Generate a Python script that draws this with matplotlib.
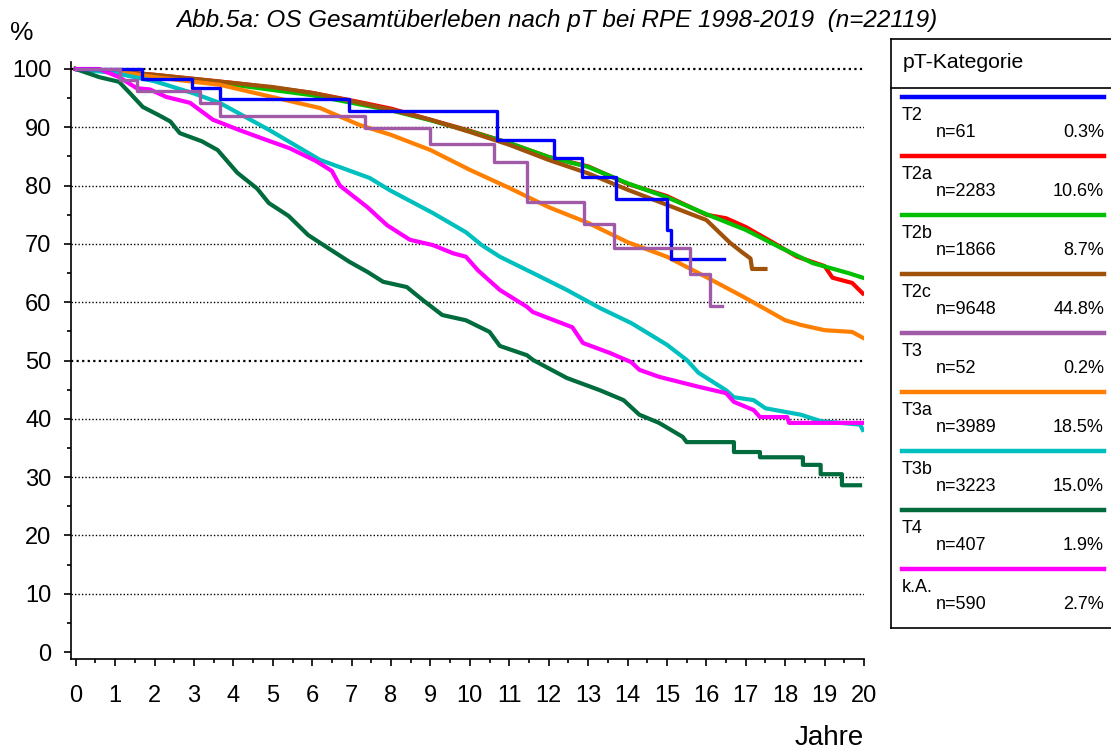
import matplotlib
matplotlib.use('Agg')
import matplotlib.pyplot as plt
from matplotlib.lines import Line2D

plt.rcParams['font.family'] = ['Liberation Sans', 'DejaVu Sans']

# Kaplan-Meier curves (years, % surviving)
t2_t = [0, 1.67, 2.94, 3.65, 6.93, 10.70, 12.13, 12.84, 13.70, 15.00, 15.10, 16.45]
t2_v = [100, 98.3, 96.7, 94.8, 92.8, 87.8, 84.7, 81.5, 77.7, 72.4, 67.4, 67.4]

t2a_t = [0, 1, 2, 3, 4, 5, 6, 7, 8, 9, 10, 11, 12, 13, 14, 15, 16, 16.5, 17, 17.7,
         18, 18.3, 19.0, 19.2, 19.7, 19.97]
t2a_v = [100, 99.6, 99.0, 98.3, 97.6, 96.8, 95.9, 94.6, 93.2, 91.3, 89.4, 87.3, 84.9,
         83.3, 80.3, 78.2, 75.0, 74.4, 72.9, 70.2, 69.0, 67.8, 66.2, 64.2, 63.3, 61.5]

t2b_t = [0, 1, 2, 3, 4, 5, 6, 7, 8, 9, 10, 11, 12, 13, 14, 15, 16, 17, 17.9, 18.7,
         19.6, 19.97]
t2b_v = [100, 99.5, 98.8, 98.0, 97.3, 96.4, 95.5, 94.2, 92.9, 91.2, 89.3, 87.3, 84.9,
         83.2, 80.4, 78.0, 75.1, 72.4, 69.3, 66.7, 65.0, 64.2]

t2c_t = [0, 1, 2, 3, 4, 5, 6, 7, 8, 9, 10, 11, 12, 13, 14, 15, 16, 16.6, 16.9, 17.12,
         17.16, 17.5]
t2c_v = [100, 99.6, 99.0, 98.3, 97.6, 96.9, 95.9, 94.5, 93.0, 91.3, 89.2, 87.0, 84.4,
         82.1, 79.3, 76.7, 74.1, 70.2, 68.6, 67.5, 65.7, 65.7]

t3_t = [0, 1.12, 1.55, 3.15, 3.65, 7.33, 8.98, 10.60, 11.45, 12.90, 13.65, 15.58, 16.09, 16.40]
t3_v = [100, 98.1, 96.2, 94.2, 92.0, 89.9, 87.1, 84.0, 77.2, 73.4, 69.3, 64.8, 59.3, 59.3]

t3a_t = [0, 1, 2, 3, 3.65, 4.92, 6.2, 7.2, 8, 9, 10, 11, 12, 13, 14, 15, 16, 17, 18,
         18.4, 19, 19.7, 19.97]
t3a_v = [100, 99.6, 98.6, 97.8, 97.3, 95.3, 93.3, 90.4, 88.7, 86.1, 82.7, 79.6, 76.3,
         73.6, 70.3, 67.8, 64.3, 60.7, 56.9, 56.1, 55.2, 54.9, 53.9]

t3b_t = [0, 1, 2, 3, 3.65, 4.92, 6.2, 7.46, 7.97, 9.06, 9.9, 10.3, 10.76, 11.6, 12.46,
         13.3, 14.1, 15.0, 15.5, 15.8, 16.5, 16.7, 17.2, 17.5, 18.4, 18.9, 19.9, 19.97]
t3b_v = [100, 99.3, 97.9, 95.8, 94.2, 89.5, 84.4, 81.3, 79.2, 75.3, 72.0, 69.8, 67.8,
         65.0, 62.1, 59.0, 56.4, 52.7, 50.1, 47.9, 44.9, 43.7, 43.2, 41.8, 40.7, 39.6,
         39.0, 38.1]

t4_t = [0, 0.6, 1.1, 1.37, 1.7, 2.13, 2.4, 2.64, 3.2, 3.6, 4.1, 4.6, 4.9, 5.4, 5.9, 6.4,
        6.95, 7.4, 7.8, 8.4, 8.8, 9.3, 9.9, 10.5, 10.76, 11.45, 11.6, 12.46, 13.3, 13.9,
        14.3, 14.8, 15.4, 15.5, 16.7, 16.7, 17.36, 17.36, 18.45, 18.45, 18.9, 18.9,
        19.44, 19.44, 19.9]
t4_v = [100, 98.6, 97.8, 95.9, 93.5, 92.0, 91.0, 89.0, 87.6, 86.1, 82.2, 79.5, 77.0,
        74.8, 71.5, 69.3, 66.9, 65.2, 63.5, 62.6, 60.4, 57.8, 56.9, 54.9, 52.5, 50.9,
        50.1, 47.0, 44.9, 43.2, 40.7, 39.3, 36.9, 36.0, 36.0, 34.3, 34.3, 33.4, 33.4,
        32.1, 32.1, 30.5, 30.5, 28.6, 28.6]

ka_t = [0, 0.6, 1.1, 1.55, 1.88, 2.3, 2.9, 3.48, 4.16, 4.85, 5.43, 6.1, 6.5, 6.7, 7.4,
        7.9, 8.48, 9.06, 9.57, 9.9, 10.2, 10.76, 11.45, 11.6, 12.6, 12.87, 13.55, 14.1,
        14.3, 14.8, 15.8, 16.5, 16.7, 17.2, 17.36, 18.05, 18.1, 20.0]
ka_v = [100, 100, 98.6, 96.7, 96.5, 95.2, 94.2, 91.3, 89.5, 87.8, 86.4, 84.2, 82.5,
        80.0, 76.3, 73.2, 70.7, 69.8, 68.4, 67.8, 65.5, 62.1, 59.2, 58.3, 55.7, 53.0,
        51.3, 49.7, 48.4, 47.2, 45.5, 44.4, 42.9, 41.5, 40.3, 40.3, 39.3, 39.3]

categories = ['T2', 'T2a', 'T2b', 'T2c', 'T3', 'T3a', 'T3b', 'T4', 'k.A.']
counts = [61, 2283, 1866, 9648, 52, 3989, 3223, 407, 590]
shares = ['0.3%', '10.6%', '8.7%', '44.8%', '0.2%', '18.5%', '15.0%', '1.9%', '2.7%']
colors = ['#0000ff', '#ff0000', '#00c000', '#a0520a', '#a05aa8', '#ff8000',
          '#00bfbf', '#006b3c', '#ff00ff']

curves = {
    'T2a': (t2a_t, t2a_v), 'T2b': (t2b_t, t2b_v), 'T2c': (t2c_t, t2c_v),
    'T3a': (t3a_t, t3a_v), 'T3b': (t3b_t, t3b_v), 'T4': (t4_t, t4_v),
    'k.A.': (ka_t, ka_v),
}
steps = {'T2': (t2_t, t2_v), 'T3': (t3_t, t3_v)}

W, H = 1111, 754
fig = plt.figure(figsize=(W / 100, H / 100), dpi=100)
ax = fig.add_axes([71 / W, 1 - 659 / H, (864 - 71) / W, (659 - 62) / H])

# dotted reference lines
for y in range(10, 101, 10):
    lw = 1.6 if y in (50, 100) else 1.0
    ax.axhline(y, color='black', lw=lw, ls=(0, (1, 1.5)), zorder=1)

for cat, col in zip(categories, colors):
    if cat in curves:
        tt, vv = curves[cat]
        ax.plot(tt, vv, color=col, lw=3, solid_joinstyle='round', zorder=2)
for cat, col in zip(categories, colors):
    if cat in steps:
        tt, vv = steps[cat]
        ax.step(tt, vv, where='post', color=col, lw=2.4, zorder=3)

ax.set_xlim(-0.12, 20)
ax.set_ylim(-1.2, 101.2)
ax.set_xticks(range(0, 21))
ax.set_xticks([i + 0.5 for i in range(20)], minor=True)
ax.set_yticks(range(0, 101, 10))
ax.set_yticks(range(5, 100, 10), minor=True)
ax.spines['top'].set_visible(False)
ax.spines['right'].set_visible(False)
for s in ('left', 'bottom'):
    ax.spines[s].set_linewidth(1.2)
ax.tick_params(axis='both', which='major', length=5, width=1.2, labelsize=17, pad=9)
ax.tick_params(axis='x', which='major', pad=14)
ax.tick_params(axis='both', which='minor', length=3, width=1.2)

fig.text(10 / W, 1 - 33 / H, '%', fontsize=19, va='center', ha='left')
fig.text(864 / W, 1 - 738 / H, 'Jahre', fontsize=20, va='center', ha='right')
fig.text(557 / W, 1 - 20 / H,
         'Abb.5a: OS Gesamtüberleben nach pT bei RPE 1998-2019  (n=22119)',
         fontsize=17.5, style='italic', va='center', ha='center')

# legend box drawn in pixel positions
def fx(px):
    return px / W


def fy(py):
    return 1 - py / H


box_l, box_t, box_b, sep = 891, 39, 628, 88
for xs, ys in [([box_l, box_l], [box_t, box_b]), ([box_l, W], [box_t, box_t]),
               ([box_l, W], [box_b, box_b]), ([box_l, W], [sep, sep])]:
    fig.add_artist(Line2D([fx(x) for x in xs], [fy(y) for y in ys],
                          color='black', lw=1.2))
fig.text(fx(903), fy(62), 'pT-Kategorie', fontsize=15.2, va='center', ha='left')

for i, (cat, n, pct, col) in enumerate(zip(categories, counts, shares, colors)):
    ly = 97 + 59.0 * i
    fig.add_artist(Line2D([fx(902), fx(1104)], [fy(ly), fy(ly)], color=col, lw=3.2))
    fig.text(fx(902), fy(ly + 23), cat, fontsize=13, va='baseline', ha='left')
    fig.text(fx(936), fy(ly + 40), 'n=%d' % n, fontsize=13, va='baseline', ha='left')
    fig.text(fx(1104), fy(ly + 40), pct, fontsize=13, va='baseline', ha='right')

fig.savefig('out.png', dpi=100)
